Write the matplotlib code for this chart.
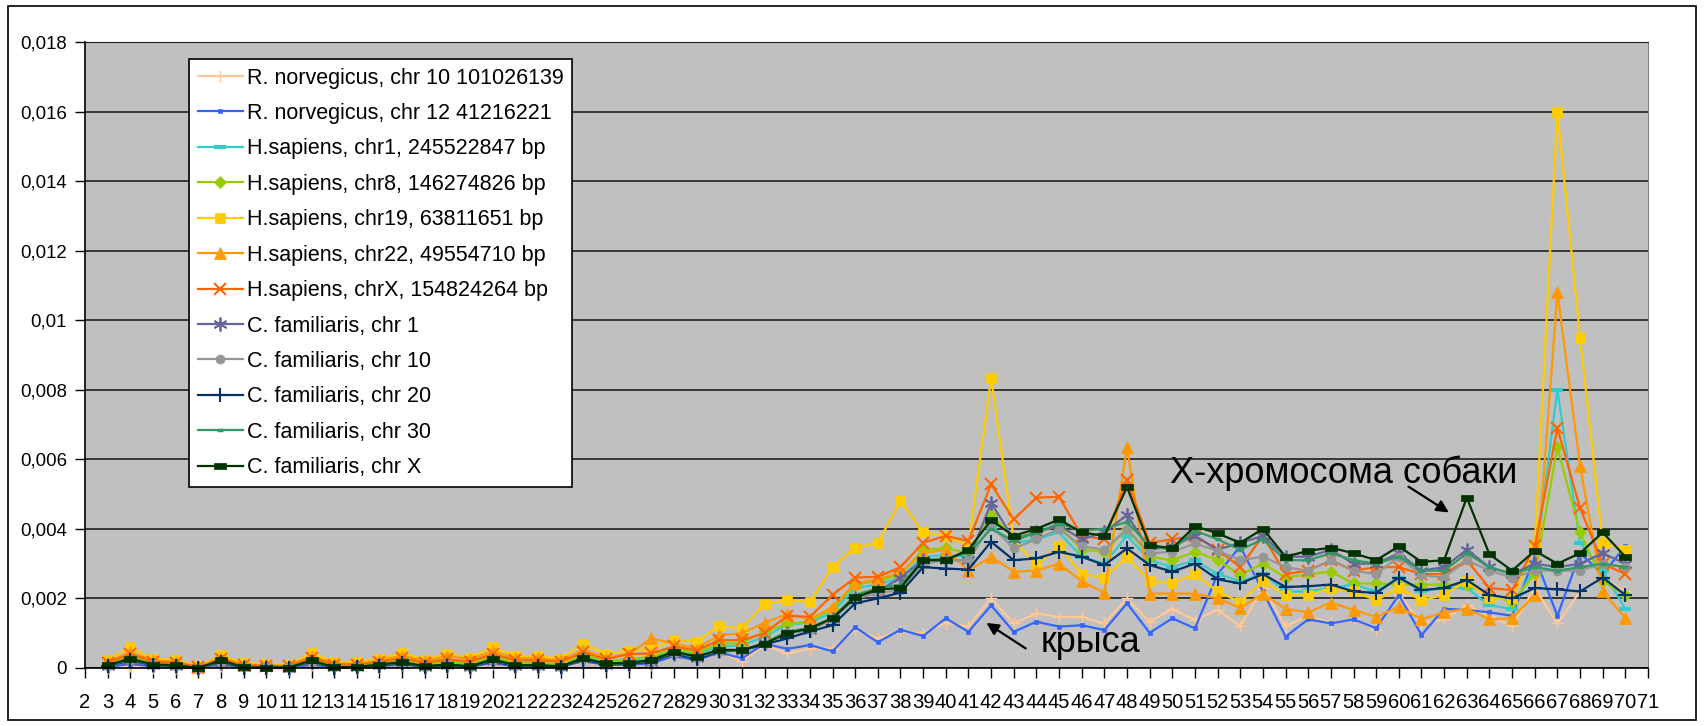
import numpy as np
import matplotlib.pyplot as plt
from matplotlib.patches import Rectangle
from matplotlib.ticker import FuncFormatter, MultipleLocator

plt.rcParams['font.family'] = ['Liberation Sans', 'DejaVu Sans']

# ось категорий 2..71, значения есть для 3..70
categories = list(range(2, 72))
x = list(range(3, 71))

# частоты (в тысячных)
rat_chr10 = [0.0, 0.05, 0.0, 0.0, 0.0, 0.05, 0.0, 0.0, 0.0, 0.08,
             0.0, 0.0, 0.03, 0.08, 0.0, 0.03, 0.0, 0.12, 0.02, 0.02,
             0.0, 0.18, 0.05, 0.08, 0.10, 0.38, 0.20, 0.45, 0.20, 0.65,
             0.42, 0.56, 0.56, 1.10, 0.85, 1.05, 1.00, 1.30, 1.20, 2.00,
             1.28, 1.57, 1.47, 1.47, 1.28, 2.00, 1.33, 1.70, 1.38, 1.67,
             1.20, 2.30, 1.20, 1.50, 1.30, 1.40, 1.10, 2.14, 1.28, 1.40,
             1.80, 1.50, 1.20, 2.30, 1.28, 2.20, 2.60, 2.20]
rat_chr12 = [0.02, 0.12, 0.04, 0.03, 0.0, 0.10, 0.01, 0.0, 0.0, 0.10,
             0.01, 0.01, 0.05, 0.10, 0.03, 0.05, 0.03, 0.15, 0.04, 0.04,
             0.03, 0.20, 0.08, 0.10, 0.12, 0.35, 0.22, 0.45, 0.28, 0.70,
             0.55, 0.66, 0.48, 1.17, 0.74, 1.10, 0.92, 1.43, 1.04, 1.80,
             1.04, 1.33, 1.19, 1.23, 1.09, 1.86, 1.01, 1.43, 1.14, 2.70,
             3.50, 2.20, 0.90, 1.40, 1.28, 1.40, 1.14, 2.10, 0.95, 1.70,
             1.67, 1.60, 1.50, 3.20, 1.50, 3.30, 2.70, 3.50]
hs_chr1 = [0.10, 0.30, 0.12, 0.10, 0.01, 0.22, 0.04, 0.03, 0.03, 0.25,
           0.05, 0.05, 0.12, 0.22, 0.08, 0.15, 0.10, 0.30, 0.12, 0.12,
           0.08, 0.35, 0.18, 0.22, 0.30, 0.52, 0.40, 0.62, 0.65, 0.90,
           1.25, 1.30, 1.60, 2.30, 2.40, 2.60, 3.20, 3.25, 3.20, 4.06,
           3.60, 3.70, 3.90, 3.20, 3.00, 3.80, 3.10, 2.90, 3.10, 2.70,
           2.50, 2.70, 2.20, 2.20, 2.30, 2.40, 2.20, 2.60, 2.20, 2.30,
           2.30, 1.80, 1.70, 2.90, 8.00, 3.60, 2.80, 1.70]
hs_chr8 = [0.12, 0.33, 0.14, 0.12, 0.02, 0.24, 0.05, 0.04, 0.04, 0.27,
           0.06, 0.06, 0.14, 0.24, 0.10, 0.18, 0.12, 0.33, 0.15, 0.15,
           0.10, 0.38, 0.20, 0.25, 0.33, 0.55, 0.43, 0.70, 0.72, 1.05,
           1.26, 1.35, 1.70, 2.40, 2.50, 2.70, 3.40, 3.45, 3.30, 4.40,
           3.75, 3.90, 4.10, 3.40, 3.34, 4.00, 3.20, 3.10, 3.34, 3.10,
           2.67, 3.00, 2.60, 2.70, 2.77, 2.43, 2.43, 2.40, 2.40, 2.40,
           2.40, 2.10, 1.90, 2.70, 6.35, 3.90, 2.50, 2.10]
hs_chr19 = [0.24, 0.60, 0.27, 0.24, 0.05, 0.36, 0.14, 0.12, 0.08, 0.43,
            0.17, 0.17, 0.27, 0.43, 0.24, 0.40, 0.30, 0.60, 0.34, 0.34,
            0.27, 0.70, 0.40, 0.50, 0.55, 0.80, 0.76, 1.20, 1.14, 1.85,
            1.95, 1.90, 2.90, 3.46, 3.60, 4.80, 3.90, 3.80, 3.50, 8.35,
            3.70, 2.96, 3.50, 2.70, 2.60, 3.20, 2.50, 2.45, 2.70, 2.20,
            1.90, 2.50, 2.10, 2.10, 2.30, 2.20, 1.95, 2.30, 1.95, 2.10,
            2.50, 2.00, 2.00, 3.50, 16.0, 9.50, 3.60, 3.40]
hs_chr22 = [0.18, 0.46, 0.22, 0.18, 0.04, 0.30, 0.10, 0.08, 0.06, 0.35,
            0.12, 0.12, 0.22, 0.35, 0.20, 0.35, 0.25, 0.48, 0.28, 0.28,
            0.22, 0.52, 0.30, 0.40, 0.85, 0.70, 0.56, 0.95, 1.00, 1.30,
            1.55, 1.40, 1.76, 2.43, 2.55, 2.75, 3.30, 3.40, 2.80, 3.20,
            2.77, 2.80, 3.00, 2.50, 2.16, 6.35, 2.14, 2.14, 2.14, 2.00,
            1.73, 2.14, 1.70, 1.60, 1.88, 1.67, 1.47, 1.76, 1.40, 1.60,
            1.70, 1.40, 1.43, 2.10, 10.8, 5.80, 2.20, 1.43]
hs_chrX = [0.15, 0.40, 0.18, 0.15, 0.03, 0.25, 0.08, 0.06, 0.05, 0.30,
           0.10, 0.10, 0.18, 0.28, 0.15, 0.25, 0.18, 0.40, 0.22, 0.22,
           0.18, 0.45, 0.25, 0.40, 0.42, 0.62, 0.50, 0.80, 0.80, 1.00,
           1.50, 1.47, 2.10, 2.60, 2.62, 2.90, 3.60, 3.80, 3.65, 5.28,
           4.27, 4.90, 4.92, 3.80, 3.70, 5.40, 3.60, 3.70, 3.80, 3.40,
           2.90, 3.80, 2.70, 2.80, 3.10, 2.80, 2.90, 2.90, 2.70, 2.70,
           3.10, 2.30, 2.24, 3.50, 6.90, 4.60, 3.00, 2.70]
cf_chr1 = [0.05, 0.20, 0.08, 0.06, 0.0, 0.15, 0.02, 0.02, 0.01, 0.18,
           0.02, 0.02, 0.08, 0.12, 0.04, 0.08, 0.04, 0.20, 0.06, 0.06,
           0.04, 0.25, 0.10, 0.12, 0.18, 0.40, 0.28, 0.48, 0.50, 0.72,
           1.00, 1.10, 1.40, 2.00, 2.20, 2.60, 3.10, 3.10, 3.10, 4.75,
           3.70, 3.90, 4.10, 3.70, 3.90, 4.40, 3.40, 3.50, 3.80, 3.40,
           3.60, 3.80, 3.20, 3.20, 3.40, 3.00, 3.00, 3.30, 2.80, 2.90,
           3.40, 2.90, 2.70, 3.00, 2.90, 3.00, 3.30, 3.00]
cf_chr10 = [0.06, 0.22, 0.08, 0.06, 0.0, 0.18, 0.02, 0.02, 0.01, 0.18,
            0.02, 0.02, 0.08, 0.14, 0.04, 0.08, 0.04, 0.22, 0.06, 0.06,
            0.04, 0.26, 0.10, 0.13, 0.20, 0.42, 0.30, 0.50, 0.50, 0.70,
            1.00, 1.10, 1.40, 2.00, 2.15, 2.25, 3.00, 3.10, 3.10, 4.10,
            3.44, 3.70, 4.00, 3.50, 3.40, 4.00, 3.30, 3.34, 3.58, 3.37,
            3.10, 3.20, 2.90, 2.80, 3.10, 2.80, 2.70, 3.20, 2.67, 2.60,
            3.10, 2.80, 2.60, 2.80, 2.80, 2.80, 3.00, 2.90]
cf_chr20 = [0.06, 0.22, 0.08, 0.06, 0.0, 0.18, 0.01, 0.01, 0.01, 0.18,
            0.01, 0.02, 0.07, 0.14, 0.03, 0.07, 0.03, 0.20, 0.05, 0.05,
            0.03, 0.24, 0.10, 0.12, 0.18, 0.42, 0.25, 0.48, 0.50, 0.68,
            0.85, 1.05, 1.23, 1.86, 2.00, 2.17, 2.90, 2.86, 2.83, 3.63,
            3.10, 3.15, 3.34, 3.20, 2.96, 3.44, 2.96, 2.77, 3.00, 2.55,
            2.43, 2.70, 2.33, 2.35, 2.40, 2.20, 2.16, 2.60, 2.24, 2.30,
            2.53, 2.10, 2.00, 2.30, 2.26, 2.20, 2.60, 2.10]
cf_chr30 = [0.07, 0.25, 0.09, 0.07, 0.0, 0.20, 0.02, 0.01, 0.01, 0.20,
            0.02, 0.02, 0.09, 0.16, 0.04, 0.09, 0.04, 0.23, 0.07, 0.07,
            0.04, 0.27, 0.12, 0.14, 0.22, 0.45, 0.30, 0.50, 0.50, 0.72,
            1.05, 1.15, 1.45, 2.10, 2.30, 2.40, 3.10, 3.15, 3.30, 4.00,
            3.65, 3.90, 4.15, 3.95, 4.00, 4.20, 3.50, 3.40, 3.95, 3.70,
            3.40, 3.70, 3.10, 3.10, 3.30, 3.10, 3.00, 3.20, 2.80, 2.80,
            3.30, 2.90, 2.70, 2.90, 2.80, 2.90, 3.00, 2.90]
cf_chrX = [0.08, 0.27, 0.10, 0.08, 0.0, 0.22, 0.02, 0.01, 0.01, 0.22,
           0.02, 0.03, 0.10, 0.17, 0.05, 0.10, 0.05, 0.25, 0.08, 0.08,
           0.05, 0.28, 0.13, 0.15, 0.23, 0.47, 0.33, 0.52, 0.52, 0.70,
           1.00, 1.14, 1.43, 2.03, 2.26, 2.30, 3.10, 3.10, 3.40, 4.25,
           3.80, 4.00, 4.27, 3.90, 3.80, 5.20, 3.53, 3.44, 4.08, 3.87,
           3.60, 4.00, 3.20, 3.37, 3.46, 3.30, 3.10, 3.50, 3.05, 3.10,
           4.90, 3.27, 2.80, 3.37, 3.00, 3.30, 3.90, 3.20]

labels = ['R. norvegicus, chr 10 101026139',
          'R. norvegicus, chr 12 41216221',
          'H.sapiens, chr1, 245522847 bp',
          'H.sapiens, chr8, 146274826 bp',
          'H.sapiens, chr19, 63811651 bp',
          'H.sapiens, chr22, 49554710 bp',
          'H.sapiens, chrX, 154824264 bp',
          'C. familiaris, chr 1',
          'C. familiaris, chr 10',
          'C. familiaris, chr 20',
          'C. familiaris, chr 30',
          'C. familiaris, chr X']
series = [rat_chr10, rat_chr12, hs_chr1, hs_chr8, hs_chr19, hs_chr22,
          hs_chrX, cf_chr1, cf_chr10, cf_chr20, cf_chr30, cf_chrX]

# Excel-like palette and markers
rect = [(-1, -0.5), (1, -0.5), (1, 0.5), (-1, 0.5), (-1, -0.5)]
styles = [
    dict(color='#FFC896', marker='+', ms=8, mew=1.0),
    dict(color='#3366FF', marker='s', ms=3.5, mew=0.5),
    dict(color='#33CCCC', marker='_', ms=8, mew=3),
    dict(color='#99CC00', marker='D', ms=6, mew=0.5),
    dict(color='#FFCC00', marker='s', ms=7.5, mew=0.5),
    dict(color='#FF9900', marker='^', ms=8.5, mew=0.5),
    dict(color='#FF6600', marker='x', ms=8.5, mew=1.5),
    dict(color='#666699', marker=(6, 2, 0), ms=10, mew=1.3),
    dict(color='#969696', marker='o', ms=6.5, mew=0.5),
    dict(color='#003366', marker='+', ms=10, mew=1.5),
    dict(color='#339966', marker='_', ms=5, mew=2.5),
    dict(color='#003300', marker=rect, ms=8, mew=0.5),
]

W, H = 1704, 726
fig = plt.figure(figsize=(W / 100, H / 100), dpi=100)
fig.patch.set_facecolor('white')
fig.patches.append(Rectangle((8 / W, 6 / H), 1688 / W, 714 / H, transform=fig.transFigure,
                             fill=False, edgecolor='black', lw=1.2))

ax = fig.add_axes([85 / W, 1 - 668 / H, 1563 / W, 626 / H])
ax.set_facecolor('#C0C0C0')

for lab, vals, st in zip(labels, series, styles):
    y = np.array(vals) / 1000.0
    ax.plot(x, y, color=st['color'], lw=1.6, marker=st['marker'], ms=st['ms'],
            mew=st['mew'], mec=st['color'], mfc=st['color'], label=lab, clip_on=False)

ax.set_xlim(categories[0], categories[-1])
ax.set_ylim(0, 0.018)
ax.set_xticks(categories)
ax.set_xticklabels([str(c) for c in categories])
ax.yaxis.set_major_locator(MultipleLocator(0.002))
ax.yaxis.set_major_formatter(FuncFormatter(lambda v, p: '{:g}'.format(round(v, 6)).replace('.', ',')))
ax.tick_params(axis='x', direction='out', length=7, width=1, labelsize=14.5, pad=11)
ax.tick_params(axis='y', direction='out', length=7, width=1, labelsize=13.4, pad=6)
ax.grid(axis='y', color='#202020', lw=1.2)
ax.set_axisbelow(True)
for s in ['left', 'bottom']:
    ax.spines[s].set_color('black')
    ax.spines[s].set_linewidth(1.2)
ax.spines['top'].set_color('#202020')
ax.spines['right'].set_color('#808080')

leg = ax.legend(loc='upper left', bbox_to_anchor=((189 - 85) / 1563, (668 - 59) / 626),
                borderaxespad=0, fontsize=15.5, frameon=True, fancybox=False,
                edgecolor='black', framealpha=1, handlelength=2.1, handletextpad=0.2,
                labelspacing=0.67, borderpad=0.4, numpoints=1)
leg.get_frame().set_linewidth(1.2)
leg.set_zorder(5)

ax.text(49.9, 0.00532, 'X-хромосома собаки', fontsize=26, va='baseline', ha='left')
ax.annotate('', xy=(62.31, 0.00443), xytext=(60.32, 0.00526),
            arrowprops=dict(arrowstyle='-|>', color='black', lw=1.6, mutation_scale=18))
ax.text(44.17, 0.00046, 'крыса', fontsize=26, va='baseline', ha='left')
ax.annotate('', xy=(41.69, 0.00134), xytext=(43.63, 0.00052),
            arrowprops=dict(arrowstyle='-|>', color='black', lw=1.6, mutation_scale=18))

fig.savefig('out.png', dpi=100)
